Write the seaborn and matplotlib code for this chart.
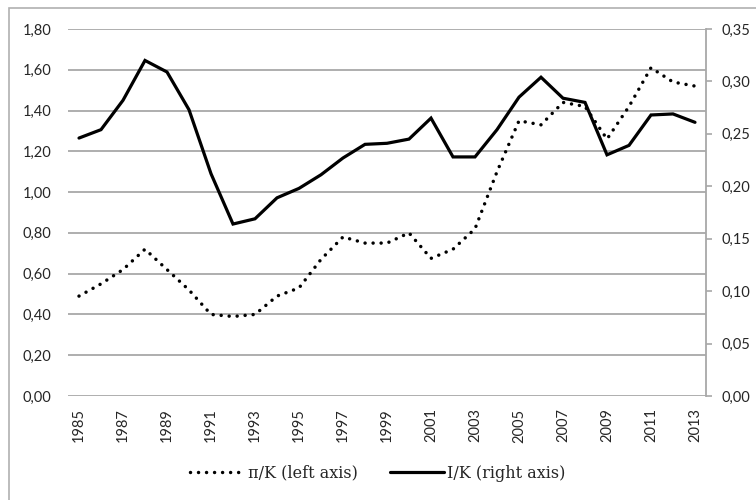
import matplotlib
matplotlib.use('Agg')
import matplotlib.pyplot as plt
import seaborn as sns
import pandas as pd
from matplotlib.patches import Rectangle
from matplotlib.lines import Line2D

years = list(range(1985, 2014))
pi_k = [0.49, 0.55, 0.62, 0.72, 0.62, 0.52, 0.40, 0.39, 0.40, 0.49,
        0.53, 0.67, 0.78, 0.75, 0.75, 0.80, 0.675, 0.72, 0.82, 1.10,
        1.35, 1.33, 1.44, 1.42, 1.26, 1.42, 1.61, 1.54, 1.52]
i_k = [0.246, 0.254, 0.282, 0.320, 0.309, 0.273, 0.212, 0.164, 0.169, 0.189,
       0.198, 0.211, 0.227, 0.240, 0.241, 0.245, 0.265, 0.228, 0.228, 0.254,
       0.285, 0.304, 0.284, 0.280, 0.230, 0.239, 0.268, 0.269, 0.261]
left_ticks = [0.0, 0.2, 0.4, 0.6, 0.8, 1.0, 1.2, 1.4, 1.6, 1.8]
right_ticks = [0.0, 0.05, 0.10, 0.15, 0.20, 0.25, 0.30, 0.35]
x_ticks = list(range(1985, 2014, 2))
labels = ["\u03c0/K (left axis)", "I/K (right axis)"]

sns.set_theme(style='white')
tick_font = 'Lato'
legend_font = 'DejaVu Serif'

fig = plt.figure(figsize=(7.56, 5.0), dpi=100)
W, H = 756, 500
ax = fig.add_axes([68 / W, 1 - 396 / H, (706 - 68) / W, (396 - 29) / H])
ax2 = ax.twinx()

df = pd.DataFrame({'year': years, 'pi_k': pi_k, 'i_k': i_k})
grey = '#a8a8a8'
txt = '#262626'

sns.lineplot(data=df, x='year', y='pi_k', ax=ax, color='black', lw=2.5,
             linestyle=(0, (0.01, 2.3)), dash_capstyle='round')
sns.lineplot(data=df, x='year', y='i_k', ax=ax2, color='black', lw=2.3,
             solid_joinstyle='miter')

ax.set_xlim(1984.5, 2013.5)
ax.set_ylim(0, 1.8)
ax2.set_ylim(0, 0.35)
ax.set_yticks(left_ticks)
ax.set_yticklabels([f"{v:.2f}".replace('.', ',') for v in left_ticks],
                   fontfamily=tick_font, fontsize=10.5, color=txt)
ax2.set_yticks(right_ticks)
ax2.set_yticklabels([f"{v:.2f}".replace('.', ',') for v in right_ticks],
                    fontfamily=tick_font, fontsize=10.5, color=txt)
ax.set_xticks(x_ticks)
ax.set_xticklabels([str(y) for y in x_ticks], rotation=90,
                   fontfamily=tick_font, fontsize=10.5, color=txt)
ax.set_xlabel('')
ax.set_ylabel('')
ax2.set_ylabel('')

ax.yaxis.grid(True, color=grey, lw=1.3)
ax.xaxis.grid(False)
ax2.grid(False)
ax.set_axisbelow(True)
for s in ax.spines.values():
    s.set_visible(False)
for k, s in ax2.spines.items():
    s.set_visible(k == 'right')
ax2.spines['right'].set_color(grey)
ax2.spines['right'].set_linewidth(1.3)
ax.tick_params(axis='y', length=0, pad=12)
ax.tick_params(axis='x', length=0, pad=9)
ax2.tick_params(axis='y', length=4, width=1.2, color=grey, direction='out', pad=7)

handles = [Line2D([], [], color='black', lw=2.5, linestyle=(0, (0.01, 2.3)),
                  dash_capstyle='round'),
           Line2D([], [], color='black', lw=2.3)]
fig.legend(handles, labels, loc='center', bbox_to_anchor=(0.5, 1 - 473 / H),
           ncol=2, frameon=False, handlelength=3.4, handletextpad=0.2,
           columnspacing=2.0,
           prop={'family': legend_font, 'size': 11.5})

fig.patches.append(Rectangle((9 / W, -0.1), 1.0, 1.1 - 8 / H,
                             transform=fig.transFigure, fill=False,
                             edgecolor='#b0b0b0', lw=1.2))

fig.savefig('out.png', dpi=100)
